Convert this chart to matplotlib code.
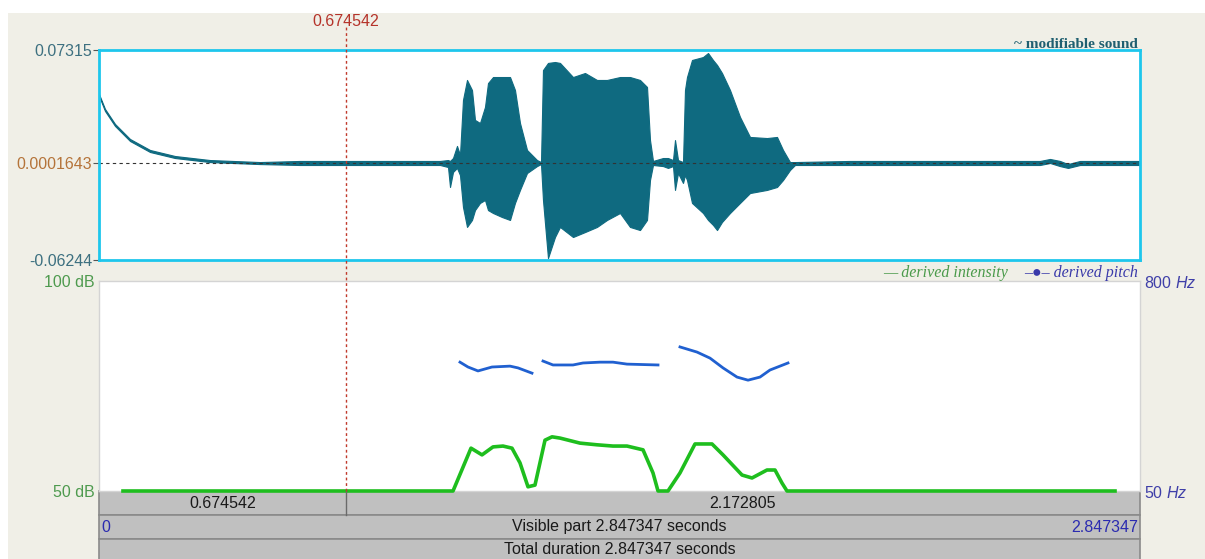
"""Praat manipulation window: waveform, intensity and pitch"""
import matplotlib.pyplot as plt
from matplotlib.patches import Rectangle
from matplotlib.lines import Line2D
from matplotlib.ticker import NullLocator

plt.rcParams['font.family'] = ['Liberation Sans', 'DejaVu Sans']
plt.rcParams['mathtext.fontset'] = 'custom'
plt.rcParams['mathtext.rm'] = 'Liberation Sans'
plt.rcParams['mathtext.it'] = 'Liberation Sans:italic'

W, H = 1205, 559

# ---------------- data ----------------
total_dur = 2.847347
cursor_t = 0.674542
amp_max = 0.07315
amp_mid = 0.0001643
amp_min = -0.06244

# waveform envelope (seconds, upper / lower amplitude)
wave_t = [0.0, 0.0164, 0.0438, 0.0848, 0.1395, 0.2079, 0.3036, 0.4404, 0.5498,
          0.9327, 0.9546, 0.9601, 0.9683, 0.9792, 0.9874,
          0.9956, 1.0066, 1.0202, 1.0284, 1.0421, 1.0558, 1.0640, 1.0777, 1.1023, 1.1242,
          1.1378, 1.1515, 1.1707, 1.1980, 1.2090,
          1.2144, 1.2281, 1.2472, 1.2609, 1.2965, 1.3293, 1.3621, 1.3895, 1.4250, 1.4524,
          1.4797, 1.4989, 1.5071, 1.5153,
          1.5427, 1.5563, 1.5700, 1.5755, 1.5837, 1.5974,
          1.6028, 1.6083, 1.6220, 1.6521, 1.6658, 1.6794, 1.6904, 1.7040, 1.7259, 1.7533,
          1.7806, 1.8271, 1.8545, 1.8709, 1.8900, 1.9037,
          2.0542, 2.5738, 2.6012, 2.6285, 2.6504, 2.6832, 2.8473]
wave_hi = [0.0447, 0.0351, 0.0254, 0.0157, 0.0086, 0.0047, 0.0021, 0.0008, 0.0015,
           0.0015, 0.0021, 0.0015, 0.0034, 0.0112, 0.0054,
           0.0409, 0.0538, 0.0473, 0.0280, 0.0260, 0.0364, 0.0518, 0.0557, 0.0557, 0.0557,
           0.0473, 0.0260, 0.0086, 0.0021, 0.0008,
           0.0602, 0.0648, 0.0654, 0.0648, 0.0557, 0.0583, 0.0538, 0.0538, 0.0557, 0.0557,
           0.0538, 0.0493, 0.0150, 0.0015,
           0.0034, 0.0034, 0.0021, 0.0150, 0.0021, 0.0008,
           0.0473, 0.0557, 0.0667, 0.0686, 0.0712, 0.0667, 0.0635, 0.0583, 0.0473, 0.0299,
           0.0170, 0.0163, 0.0170, 0.0086, 0.0008, 0.0008,
           0.0015, 0.0015, 0.0028, 0.0015, -0.0005, 0.0015, 0.0015]
wave_lo = [0.0435, 0.0338, 0.0241, 0.0144, 0.0073, 0.0034, 0.0008, -0.0005, -0.0011,
           -0.0011, -0.0024, -0.0153, -0.0056, -0.0030, -0.0076,
           -0.0282, -0.0411, -0.0366, -0.0302, -0.0256, -0.0237, -0.0302, -0.0321, -0.0347, -0.0366,
           -0.0256, -0.0172, -0.0063, -0.0018, -0.0005,
           -0.0237, -0.0612, -0.0476, -0.0411, -0.0476, -0.0444, -0.0411, -0.0366, -0.0321, -0.0411,
           -0.0431, -0.0366, -0.0108, -0.0011,
           -0.0018, -0.0030, -0.0018, -0.0172, -0.0063, -0.0127,
           -0.0076, -0.0108, -0.0256, -0.0321, -0.0366, -0.0398, -0.0431, -0.0379, -0.0321, -0.0256,
           -0.0192, -0.0172, -0.0153, -0.0108, -0.0043, -0.0011,
           -0.0011, -0.0011, 0.0002, -0.0018, -0.0030, -0.0011, -0.0011]

# derived intensity (dB)
int_t = [0.0656, 0.9683, 1.0175, 1.0476, 1.0777, 1.1050, 1.1296, 1.1515, 1.1734, 1.1925,
         1.2199, 1.2391, 1.2609, 1.3156, 1.3621, 1.4059, 1.4442, 1.4880, 1.5153, 1.5290,
         1.5563, 1.5891, 1.6302, 1.6767, 1.7068, 1.7588, 1.7861, 1.8271, 1.8490, 1.8681,
         1.8818, 2.7790]
int_db = [50.0, 50.0, 60.2, 58.6, 60.5, 60.7, 60.2, 56.7, 51.0, 51.4,
          62.1, 62.9, 62.6, 61.4, 61.0, 60.7, 60.7, 59.8, 54.3, 50.0,
          50.0, 54.3, 61.2, 61.2, 58.6, 53.8, 53.1, 55.0, 55.0, 51.9,
          50.0, 50.0]

# derived pitch (Hz), three voiced stretches
pitch1_t = [0.9874, 1.0093, 1.0366, 1.0749, 1.1242, 1.1460, 1.1843]
pitch1_hz = [274, 257, 244, 257, 260, 254, 237]
pitch2_t = [1.2144, 1.2418, 1.2965, 1.3238, 1.3703, 1.4059, 1.4442, 1.5290]
pitch2_hz = [278, 264, 264, 271, 274, 274, 267, 264]
pitch3_t = [1.5891, 1.6357, 1.6712, 1.7068, 1.7451, 1.7752, 1.8080, 1.8353, 1.8845]
pitch3_hz = [335, 313, 289, 254, 225, 216, 225, 247, 271]

# ---------------- layout helpers ----------------
def box(l, t, r, b):
    return [l / W, 1 - b / H, (r - l) / W, (b - t) / H]

def fy(y):
    return 1 - y / H

fig = plt.figure(figsize=(W / 100, H / 100), dpi=100, facecolor='white')
fig.patches.append(Rectangle((8 / W, 0), 1, fy(13), transform=fig.transFigure,
                             facecolor='#F0EFE7', edgecolor='none', zorder=-2))

FS = 11.5

# ---------------- waveform ----------------
axw = fig.add_axes(box(99, 50, 1140, 260))
axw.fill_between(wave_t, wave_lo, wave_hi, color='#0F6A80', lw=0.8)
axw.axhline(amp_mid, color='#333333', ls=(0, (3, 3)), lw=0.8)
axw.set_xlim(0, total_dur)
axw.set_ylim(amp_min, amp_max)
axw.set_xticks([])
axw.set_yticks([amp_max, amp_mid, amp_min])
axw.set_yticklabels(['0.07315', '0.0001643', '-0.06244'], fontsize=FS)
axw.tick_params(axis='y', length=4, pad=1, color='#555555')
for lab, c in zip(axw.get_yticklabels(), ['#3D7080', '#B5743A', '#3D7080']):
    lab.set_color(c)
for s in axw.spines.values():
    s.set_color('#1EC6EC')
    s.set_linewidth(2)

# ---------------- intensity + pitch ----------------
axi = fig.add_axes(box(99, 281, 1140, 491))
axi.plot(int_t, int_db, color='#1EBE1E', lw=2.6, clip_on=False, zorder=3)
axi.set_xlim(0, total_dur)
axi.set_ylim(50, 100)
axi.set_xticks([])
axi.set_yticks([50, 100])
axi.set_yticklabels(['50 dB', '100 dB'], fontsize=FS, color='#4E9A4E')
axi.tick_params(axis='y', length=0, pad=3)
for s in axi.spines.values():
    s.set_color('#D4D4D4')
    s.set_linewidth(1)

axp = axi.twinx()
axp.set_yscale('log')
for pt, ph in [(pitch1_t, pitch1_hz), (pitch2_t, pitch2_hz), (pitch3_t, pitch3_hz)]:
    axp.plot(pt, ph, color='#2060D0', lw=2)
axp.set_ylim(50, 800)
axp.yaxis.set_minor_locator(NullLocator())
axp.set_yticks([50, 800])
axp.set_yticklabels(['50 $\\mathit{Hz}$', '800 $\\mathit{Hz}$'], fontsize=FS, color='#3F3FA8')
axp.tick_params(axis='y', length=0, pad=3)
for s in axp.spines.values():
    s.set_visible(False)

# ---------------- text above panels ----------------
fig.text(1138 / W, fy(44), '~ modifiable sound', ha='right', va='center', fontsize=11,
         fontweight='bold', family=['Liberation Serif', 'DejaVu Serif'], color='#1F5F70')
serif_it = dict(fontsize=FS, style='italic', family=['Liberation Serif', 'DejaVu Serif'],
                va='center')
fig.text(1138 / W, fy(273), '\u2013\u25cf\u2013 derived pitch', ha='right', color='#3A3AAA',
         **serif_it)
fig.text(1008 / W, fy(273), '\u2014 derived intensity', ha='right', color='#4A9A4A',
         **serif_it)

# ---------------- cursor ----------------
to_fig = fig.transFigure.inverted()
xf = to_fig.transform(axw.transData.transform((cursor_t, 0)))[0]
x0 = to_fig.transform(axw.transData.transform((0, 0)))[0]
x1 = to_fig.transform(axw.transData.transform((total_dur, 0)))[0]
fig.add_artist(Line2D([xf, xf], [fy(491), fy(26)], color='#C0392B', ls=(0, (2, 2)), lw=1,
                      zorder=5))
fig.text(xf, fy(22), f'{cursor_t:.6f}', ha='center', va='center', fontsize=FS,
         color='#B5332A')

# ---------------- bottom bars ----------------
for top, bot in [(491, 515), (515, 539), (539, 580)]:
    fig.patches.append(Rectangle((x0, fy(bot)), x1 - x0, (bot - top) / H,
                                 transform=fig.transFigure, facecolor='#C0C0C0',
                                 edgecolor='#8A8A8A', lw=1.2, zorder=-1))
fig.add_artist(Line2D([xf, xf], [fy(515), fy(491)], color='#6A6A6A', lw=1, zorder=2))

txt = dict(fontsize=FS, va='center', color='#1A1A1A')
fig.text((x0 + xf) / 2, fy(503), f'{cursor_t:.6f}', ha='center', **txt)
fig.text((xf + x1) / 2, fy(503), f'{total_dur - cursor_t:.6f}', ha='center', **txt)
fig.text((x0 + x1) / 2, fy(527), f'Visible part {total_dur:.6f} seconds', ha='center', **txt)
fig.text(x0 + 2 / W, fy(527), '0', ha='left', fontsize=FS, va='center', color='#2B2BB0')
fig.text(x1 - 2 / W, fy(527), f'{total_dur:.6f}', ha='right', fontsize=FS, va='center',
         color='#2B2BB0')
fig.text((x0 + x1) / 2, fy(550), f'Total duration {total_dur:.6f} seconds', ha='center', **txt)

fig.savefig('out.png', dpi=100, facecolor=fig.get_facecolor())
